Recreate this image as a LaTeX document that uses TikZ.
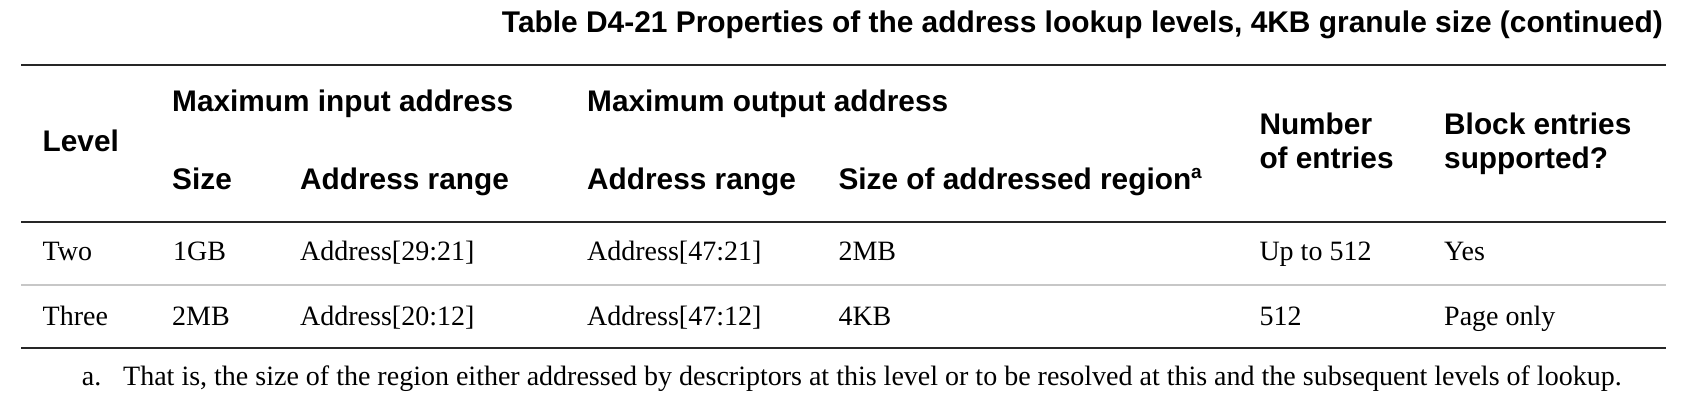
\documentclass[tikz,border=0pt]{standalone}
\usepackage{fontspec}
\setmainfont{Liberation Serif}
\newfontfamily\hdfont{Liberation Sans}
\begin{document}
\begin{tikzpicture}[x=1pt,y=-1pt,
  hd/.style={inner sep=0pt,anchor=base west,font=\hdfont\bfseries\fontsize{29.8}{34}\selectfont},
  bd/.style={inner sep=0pt,anchor=base west,font=\fontsize{28}{34}\selectfont},
  rulek/.style={line width=2pt,black!85},
  ruleg/.style={line width=2pt,black!22}]
\useasboundingbox[fill=white] (0,0) rectangle (1684,414);
\node[inner sep=0pt,anchor=base east,font=\hdfont\bfseries\fontsize{29.9}{34}\selectfont] (title) at (1663,33) {Table D4-21 Properties of the address lookup levels, 4KB granule size (continued)};
\coordinate (l1a) at (21,65); \coordinate (l1b) at (1666,65);
\coordinate (l2a) at (21,222); \coordinate (l2b) at (1666,222);
\coordinate (l3a) at (21,285); \coordinate (l3b) at (1666,285);
\coordinate (l4a) at (21,348); \coordinate (l4b) at (1666,348);
\draw[rulek] (l1a) -- (l1b);
\draw[rulek] (l2a) -- (l2b);
\draw[ruleg] (l3a) -- (l3b);
\draw[rulek] (l4a) -- (l4b);
% header
\node[hd] (hmin) at (172,111.7) {Maximum input address};
\node[hd] (hmout) at (587,111.7) {Maximum output address};
\node[hd] (hlev) at (42.5,151.7) {Level};
\node[hd] (hsize) at (172,190) {Size};
\node[hd] (hiar) at (300,190) {Address range};
\node[hd] (hoar) at (587,190) {Address range};
\node[hd] (hsar) at (838.3,190) {Size of addressed region\raisebox{0.4em}{\fontsize{19}{22}\selectfont a}};
\node[hd] (hnum1) at (1259.3,134.3) {Number};
\node[hd] (hnum2) at (1259.3,168.3) {of entries};
\node[hd] (hblk1) at (1444,134.3) {Block entries};
\node[hd] (hblk2) at (1444,168.3) {supported?};
% row 1
\node[bd] (r1a) at (42.5,261) {Two};
\node[bd] (r1b) at (173,261) {1GB};
\node[bd] (r1c) at (300,261) {Address[29:21]};
\node[bd] (r1d) at (587,261) {Address[47:21]};
\node[bd] (r1e) at (838.3,261) {2MB};
\node[bd] (r1f) at (1259.3,261) {Up to 512};
\node[bd] (r1g) at (1444,261) {Yes};
% row 2
\node[bd] (r2a) at (42.5,325) {Three};
\node[bd] (r2b) at (172,325) {2MB};
\node[bd] (r2c) at (300,325) {Address[20:12]};
\node[bd] (r2d) at (587,325) {Address[47:12]};
\node[bd] (r2e) at (838.3,325) {4KB};
\node[bd] (r2f) at (1259.3,325) {512};
\node[bd] (r2g) at (1444,325) {Page only};
% footnote
\node[bd] (fa) at (81.7,385) {a.};
\node[bd] (fb) at (123,385) {That is, the size of the region either addressed by descriptors at this level or to be resolved at this and the subsequent levels of lookup.};
\end{tikzpicture}
\end{document}
